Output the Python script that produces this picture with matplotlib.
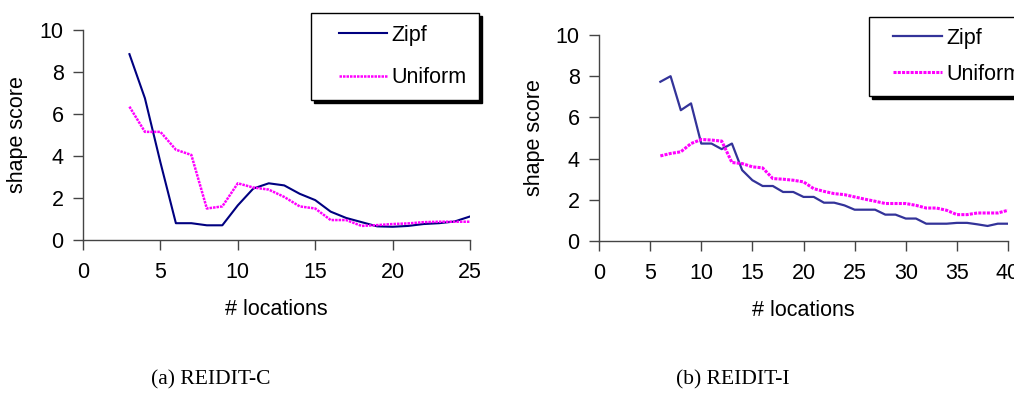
import matplotlib
matplotlib.use("Agg")
import matplotlib.pyplot as plt
from matplotlib.lines import Line2D
from matplotlib.legend_handler import HandlerLine2D

# (a) REIDIT-C
c_locations = list(range(3, 26))
c_zipf = [8.85, 6.75, 3.7, 0.8, 0.8, 0.7, 0.7, 1.65, 2.45, 2.7, 2.6, 2.2, 1.9,
          1.35, 1.05, 0.85, 0.65, 0.63, 0.67, 0.76, 0.8, 0.88, 1.12]
c_uniform = [6.35, 5.15, 5.15, 4.3, 4.05, 1.5, 1.6, 2.7, 2.5, 2.4, 2.05, 1.6, 1.5,
             0.95, 0.95, 0.67, 0.71, 0.76, 0.79, 0.85, 0.87, 0.87, 0.87]

# (b) REIDIT-I
i_locations = list(range(6, 41))
i_zipf = [7.73, 8.0, 6.35, 6.68, 4.73, 4.73, 4.46, 4.73, 3.44, 2.95, 2.67, 2.67,
          2.38, 2.38, 2.14, 2.14, 1.86, 1.86, 1.73, 1.52, 1.52, 1.52, 1.28, 1.28,
          1.09, 1.09, 0.84, 0.84, 0.84, 0.88, 0.88, 0.81, 0.73, 0.84, 0.84]
i_uniform = [4.13, 4.25, 4.33, 4.73, 4.93, 4.9, 4.85, 3.81, 3.76, 3.6, 3.55, 3.03,
             3.0, 2.95, 2.87, 2.54, 2.41, 2.3, 2.25, 2.14, 2.03, 1.93, 1.82, 1.82,
             1.82, 1.73, 1.6, 1.6, 1.49, 1.28, 1.28, 1.36, 1.36, 1.36, 1.49]

captions = ["(a) REIDIT-C", "(b) REIDIT-I"]

W, H = 1014, 399
FS = 15.5
plt.rcParams['font.family'] = ['Liberation Sans', 'DejaVu Sans']
fig = plt.figure(figsize=(W / 100, H / 100), dpi=100)


def px_axes(l, r, t, b):
    return fig.add_axes([l / W, 1 - b / H, (r - l) / W, (b - t) / H])


def style(ax, xmax, xstep):
    ax.set_xlim(0, xmax)
    ax.set_ylim(0, 10)
    ax.set_xticks(range(0, xmax + 1, xstep))
    ax.set_yticks(range(0, 11, 2))
    for s in ['top', 'right']:
        ax.spines[s].set_visible(False)
    for s in ['left', 'bottom']:
        ax.spines[s].set_color('#444444')
        ax.spines[s].set_linewidth(1.0)
    ax.tick_params(axis='x', length=7, width=1, color='#444444', pad=9, labelsize=FS)
    ax.tick_params(axis='y', length=7, width=1, color='#444444', pad=7, labelsize=FS)
    ax.set_xlabel('# locations', fontsize=FS)
    ax.set_ylabel('shape score', fontsize=FS)


def add_legend(ax, x, y, hl, xpad, spacing, pad):
    leg = ax.legend(loc='upper left', bbox_to_anchor=(x / W, 1 - y / H),
                    bbox_transform=fig.transFigure, borderaxespad=0,
                    fancybox=False,
                    shadow={'color': 'black', 'alpha': 1, 'ox': 2.2, 'oy': -2.2},
                    fontsize=FS, handlelength=hl, handletextpad=0.2,
                    labelspacing=spacing, borderpad=pad, framealpha=1,
                    handler_map={Line2D: HandlerLine2D(xpad=xpad)})
    leg.get_frame().set_edgecolor('black')
    leg.get_frame().set_linewidth(1.0)
    return leg


# left panel
ax1 = px_axes(83, 470, 30, 240)
ax1.plot(c_locations, c_zipf, color='#000080', lw=1.5, label='Zipf')
ax1.plot(c_locations, c_uniform, color='#ff00ff', lw=1.8, ls=(0, (1, 0.4)), label='Uniform')
style(ax1, 25, 5)
ax1.xaxis.set_label_coords(0.5, -0.28)
ax1.yaxis.set_label_coords(-0.142, 0.5)
add_legend(ax1, 311, 13, 3.0, 0.75, 1.0, 0.55)

# right panel
ax2 = px_axes(599, 1008, 35, 241)
ax2.plot(i_locations, i_zipf, color='#333399', lw=1.6, label='Zipf')
ax2.plot(i_locations, i_uniform, color='#ff00ff', lw=2.2, ls=(0, (1, 0.4)), label='Uniform')
style(ax2, 40, 5)
ax2.xaxis.set_label_coords(0.5, -0.288)
ax2.yaxis.set_label_coords(-0.132, 0.5)
add_legend(ax2, 869, 17, 2.9, 0.6, 0.7, 0.5)

fig.text(211 / W, 1 - 380 / H, captions[0], ha='center', va='center',
         fontsize=15.5, family=['Liberation Serif', 'DejaVu Serif'])
fig.text(733 / W, 1 - 380 / H, captions[1], ha='center', va='center',
         fontsize=15.5, family=['Liberation Serif', 'DejaVu Serif'])

fig.savefig('out.png', dpi=100)
